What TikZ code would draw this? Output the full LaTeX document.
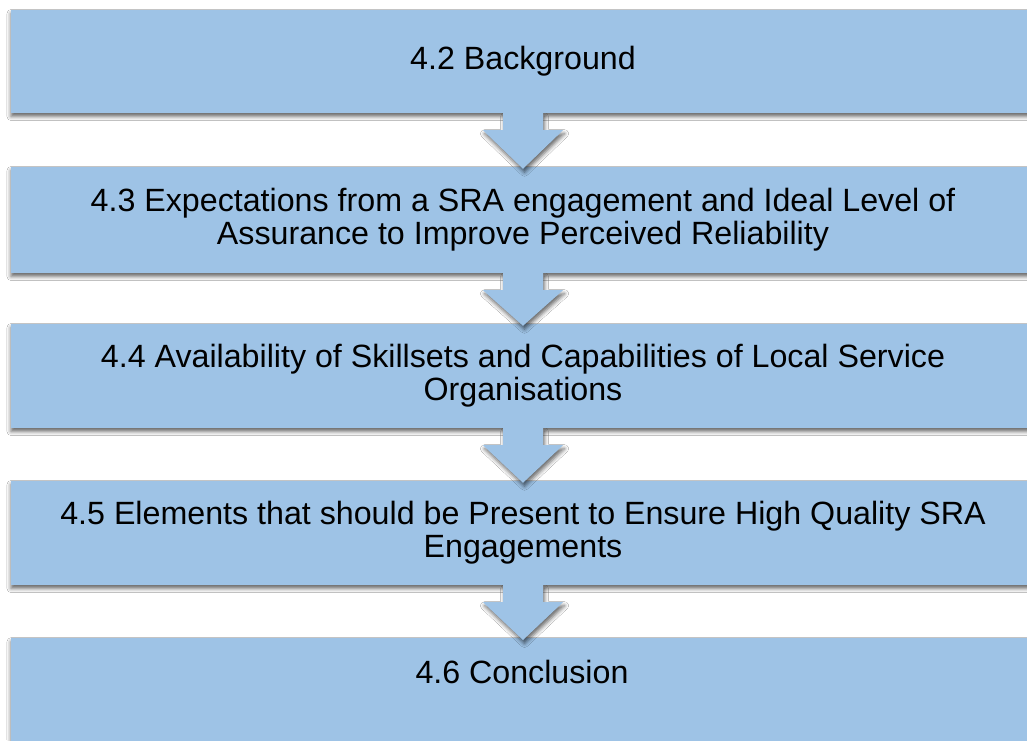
\documentclass[tikz,border=0pt]{standalone}
\usepackage{fontspec}
\setmainfont{Liberation Sans}
\usetikzlibrary{calc,shadows.blur}

\definecolor{stepblue}{RGB}{158,195,230}

\tikzset{
  stagebox/.style={fill=stepblue, draw=none, rectangle, minimum width=1024pt,
    inner sep=0pt, align=center, font=\fontsize{32.2}{33}\selectfont,
    blur shadow={shadow xshift=0pt, shadow yshift=-3.5pt, shadow blur radius=4pt,
      shadow opacity=60}},
  stagetext/.style={align=center, inner sep=0pt, font=\fontsize{32.2}{33}\selectfont},
  flowarrow/.style={fill=stepblue, draw=none,
    blur shadow={shadow xshift=1.5pt, shadow yshift=-3.5pt, shadow blur radius=4pt,
      shadow opacity=60}},
  flatpatch/.style={fill=stepblue, draw=none}
}

% block arrow from the bottom of one stage to the top of the next;
% the shaft is repainted flat where it leaves the upper stage
\newcommand\stagearrow[2]{%
  \fill[flowarrow]
    ($(#1.south)+(-20,0)$) -- ($(#1.south)+(20,0)$) --
    ($(#1.south)+(20,17)$) -- ($(#1.south)+(40,17)$) --
    ($(#2.north)+(0,2)$) --
    ($(#1.south)+(-40,17)$) -- ($(#1.south)+(-20,17)$) -- cycle;
  \fill[flatpatch] ($(#1.south)+(-28,-8)$) rectangle ($(#1.south)+(28,0)$);
  \fill[flatpatch] ($(#1.south)+(-20,-1)$) rectangle ($(#1.south)+(20,14)$);}

\begin{document}
\begin{tikzpicture}[x=1pt,y=-1pt]
  \useasboundingbox (0,0) rectangle (1027,740);
  \fill[white] (0,0) rectangle (1027,740);
  \clip (0,0) rectangle (1027,740);

  \node[stagebox, minimum height=103pt] (b1) at (523,61.5) {4.2 Background};
  \node[stagebox, minimum height=106pt] (b2) at (523,220)
    {4.3 Expectations from a SRA engagement and Ideal Level of\\Assurance to Improve Perceived Reliability};
  \node[stagebox, minimum height=104pt] (b3) at (523,376)
    {4.4 Availability of Skillsets and Capabilities of Local Service\\Organisations};
  \node[stagebox, minimum height=104pt] (b4) at (523,533)
    {4.5 Elements that should be Present to Ensure High Quality SRA\\Engagements};
  \node[stagebox, minimum height=124pt, anchor=north] (b5) at (523,638) {};
  \node[stagetext] (t5) at (522,672) {4.6 Conclusion};

  \stagearrow{b1}{b2}
  \stagearrow{b2}{b3}
  \stagearrow{b3}{b4}
  \stagearrow{b4}{b5}
\end{tikzpicture}
\end{document}
